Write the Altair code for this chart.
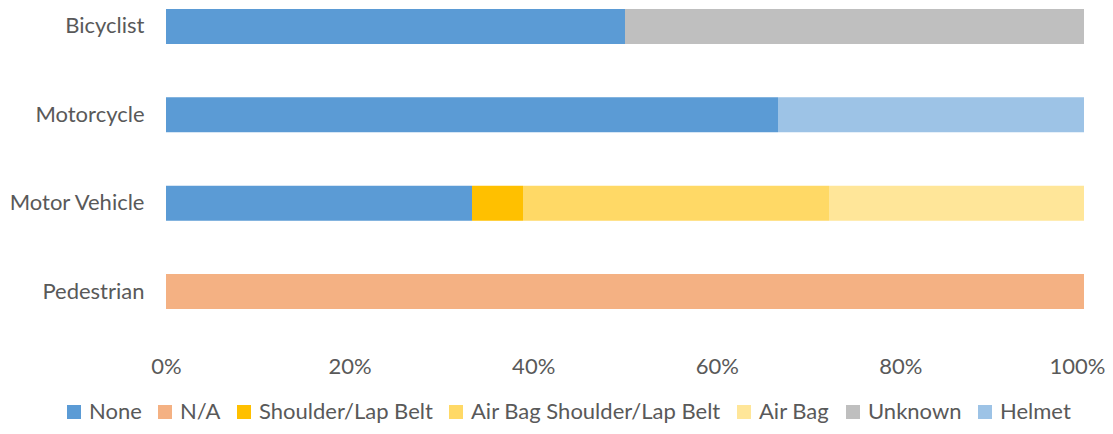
import altair as alt
import pandas as pd

categories = ["Bicyclist", "Bicyclist",
              "Motorcycle", "Motorcycle",
              "Motor Vehicle", "Motor Vehicle", "Motor Vehicle", "Motor Vehicle",
              "Pedestrian"]
restraints = ["None", "Unknown",
              "None", "Helmet",
              "None", "Shoulder/Lap Belt", "Air Bag Shoulder/Lap Belt", "Air Bag",
              "N/A"]
counts = [1, 1,
          2, 1,
          6, 1, 6, 5,
          5]

category_order = ["Bicyclist", "Motorcycle", "Motor Vehicle", "Pedestrian"]
legend_order = ["None", "N/A", "Shoulder/Lap Belt", "Air Bag Shoulder/Lap Belt",
                "Air Bag", "Unknown", "Helmet"]
palette = ["#5B9BD5", "#F4B183", "#FFC000", "#FFD966", "#FFE699", "#BFBFBF", "#9DC3E6"]
x_ticks = [0, 0.2, 0.4, 0.6, 0.8, 1.0]

df = pd.DataFrame({"category": categories, "restraint": restraints, "count": counts})
df["order"] = df["restraint"].map({k: i for i, k in enumerate(legend_order)})

FONT = "Lato"
TXT = "#595959"
FS = 22

chart = alt.Chart(df).mark_bar().encode(
    y=alt.Y("category:N", sort=category_order,
            scale=alt.Scale(paddingInner=0.604, paddingOuter=0.0113),
            axis=alt.Axis(title=None, domain=False, ticks=False, labelPadding=22,
                          labelFont=FONT, labelFontSize=FS, labelColor=TXT)),
    x=alt.X("count:Q", stack="normalize",
            scale=alt.Scale(domain=[0, 1], nice=False),
            axis=alt.Axis(title=None, domain=False, ticks=False, grid=False,
                          values=x_ticks, format=".0%", labelPadding=46,
                          labelFont=FONT, labelFontSize=FS, labelColor=TXT,
                          labelFlush=False,
                          labelOffset=alt.ExprRef("datum.value == 1 ? -7 : 0"))),
    color=alt.Color("restraint:N",
                    scale=alt.Scale(domain=legend_order, range=palette),
                    legend=alt.Legend(title=None, orient="none", direction="horizontal",
                                      legendX=-103, legendY=393, columns=7,
                                      symbolType="square", symbolSize=196,
                                      symbolStrokeWidth=0, columnPadding=12,
                                      labelOffset=4, labelLimit=0,
                                      labelFont=FONT, labelFontSize=FS,
                                      labelColor=TXT)),
    order=alt.Order("order:Q"),
).properties(
    width=918, height=302,
    autosize=alt.AutoSizeParams(type="none"),
    padding={"left": 158, "top": 0, "right": 21, "bottom": 116},
    background="white",
).configure_view(stroke=None)

chart.save("out.html", embed_options={"renderer": "svg", "actions": False})
